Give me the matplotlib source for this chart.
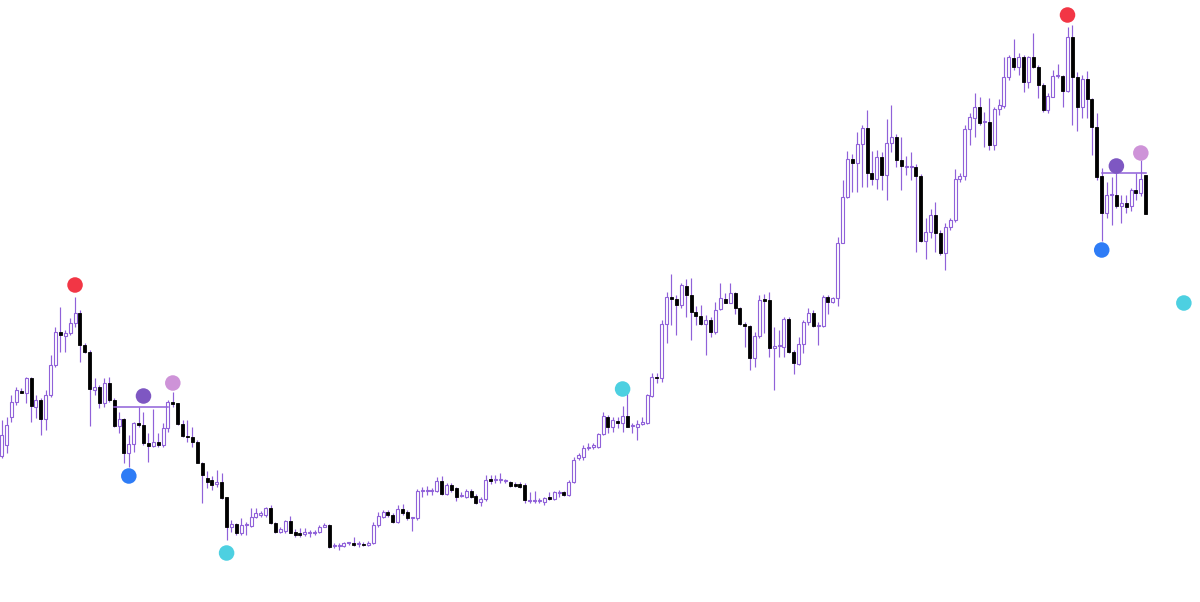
import numpy as np
import matplotlib
matplotlib.use('Agg')
import matplotlib.pyplot as plt

# candle data (price units)
opens = [146, 157, 185, 200, 211, 209, 224, 195, 202, 183,
         207, 237, 270, 266, 269, 279, 289, 257, 250, 212,
         215, 199, 219, 202, 176, 183, 149, 158, 179, 177,
         159, 156, 160, 157, 174, 200, 199, 178, 166, 165,
         160, 139, 124, 122, 118, 120, 105, 75, 78, 69,
         77, 76, 85, 87, 87, 94, 79, 70, 71, 81,
         70, 69, 68, 69, 69, 70, 75, 77, 56, 56,
         56, 59, 59, 58, 58, 57, 59, 77, 85, 90,
         87, 80, 93, 90, 84, 84, 111, 111, 111, 111,
         121, 108, 117, 114, 106, 105, 111, 106, 100, 103,
         123, 122, 122, 121, 120, 118, 118, 117, 101, 101,
         101, 100, 105, 103, 109, 110, 107, 120, 144, 145,
         154, 155, 155, 168, 185, 175, 181, 179, 186, 176,
         175, 178, 179, 206, 225, 224, 278, 305, 303, 297,
         316, 307, 290, 286, 278, 282, 270, 293, 303, 299,
         309, 294, 278, 276, 244, 266, 303, 302, 254, 256,
         255, 283, 250, 238, 258, 280, 289, 276, 276, 305,
         300, 304, 359, 405, 443, 439, 458, 474, 429, 423,
         445, 427, 459, 465, 442, 435, 435, 435, 426, 361,
         370, 387, 369, 349, 375, 382, 423, 426, 473, 484,
         495, 480, 480, 457, 493, 496, 525, 544, 535, 545,
         520, 545, 535, 517, 492, 505, 526, 526, 511, 565,
         525, 495, 523, 503, 475, 426, 389, 407, 407, 396,
         399, 396, 412, 409, 427]
highs = [182, 185, 207, 215, 214, 225, 225, 207, 204, 212,
         247, 275, 295, 272, 284, 305, 292, 259, 252, 224,
         217, 224, 225, 204, 190, 184, 167, 180, 195, 190,
         169, 193, 169, 179, 202, 210, 199, 182, 182, 175,
         162, 140, 131, 126, 132, 129, 105, 82, 79, 84,
         80, 94, 94, 91, 95, 97, 80, 75, 82, 86,
         73, 74, 74, 72, 72, 77, 79, 78, 59, 59,
         60, 60, 65, 61, 60, 61, 80, 90, 92, 92,
         89, 97, 98, 92, 85, 113, 115, 116, 114, 125,
         126, 119, 119, 115, 110, 113, 113, 108, 105, 127,
         127, 127, 129, 123, 121, 120, 120, 119, 110, 111,
         104, 105, 110, 111, 112, 111, 122, 145, 149, 157,
         159, 159, 169, 190, 187, 185, 185, 196, 210, 179,
         182, 185, 208, 229, 229, 282, 310, 328, 307, 319,
         323, 324, 296, 297, 287, 285, 300, 319, 309, 319,
         310, 295, 280, 277, 270, 307, 308, 310, 275, 272,
         285, 285, 252, 265, 282, 294, 292, 280, 307, 307,
         305, 365, 422, 451, 448, 470, 477, 492, 451, 452,
         450, 483, 497, 468, 465, 446, 450, 438, 428, 384,
         393, 400, 372, 379, 384, 433, 429, 477, 489, 509,
         505, 490, 504, 495, 503, 545, 547, 563, 549, 547,
         546, 569, 537, 519, 509, 532, 538, 527, 575, 577,
         530, 527, 531, 504, 489, 434, 420, 425, 440, 407,
         407, 414, 429, 442, 427]
lows = [144, 149, 180, 197, 209, 199, 180, 184, 167, 172,
        205, 235, 250, 250, 267, 275, 240, 249, 176, 207,
        194, 195, 200, 175, 169, 139, 135, 150, 175, 157,
        140, 155, 155, 155, 170, 195, 177, 165, 160, 155,
        139, 99, 114, 112, 115, 103, 62, 70, 67, 67,
        67, 75, 84, 85, 85, 78, 69, 69, 69, 69,
        65, 65, 66, 65, 67, 69, 75, 54, 54, 52,
        55, 57, 56, 55, 56, 56, 58, 75, 84, 85,
        79, 79, 87, 82, 71, 82, 105, 107, 107, 110,
        107, 107, 110, 101, 105, 104, 104, 98, 96, 101,
        118, 119, 119, 119, 115, 115, 114, 99, 99, 99,
        99, 97, 102, 102, 105, 106, 106, 119, 142, 142,
        152, 153, 154, 167, 169, 170, 174, 170, 175, 169,
        162, 177, 178, 205, 219, 220, 259, 277, 267, 294,
        285, 262, 277, 277, 247, 265, 268, 292, 299, 299,
        288, 277, 255, 232, 235, 264, 269, 245, 212, 245,
        245, 249, 228, 237, 249, 277, 275, 257, 275, 288,
        299, 296, 359, 404, 410, 410, 415, 415, 417, 413,
        412, 402, 450, 435, 412, 427, 422, 350, 360, 343,
        364, 350, 347, 332, 372, 380, 420, 422, 457, 465,
        477, 455, 452, 452, 487, 494, 522, 532, 527, 510,
        514, 534, 504, 490, 489, 505, 524, 495, 510, 477,
        471, 484, 484, 447, 422, 361, 384, 377, 394, 379,
        389, 391, 402, 406, 388]
closes = [167, 177, 200, 212, 209, 224, 196, 202, 183, 207,
          237, 270, 267, 269, 279, 289, 257, 250, 213, 215,
          199, 219, 202, 176, 183, 149, 158, 179, 177, 159,
          156, 160, 157, 174, 200, 198, 178, 166, 165, 160,
          139, 127, 120, 117, 120, 104, 75, 78, 69, 77,
          77, 85, 89, 89, 94, 79, 70, 73, 81, 69,
          67, 67, 70, 69, 70, 75, 77, 55, 56, 56,
          59, 59, 57, 58, 57, 59, 77, 86, 90, 87,
          80, 93, 89, 84, 84, 111, 111, 111, 112, 121,
          108, 117, 112, 105, 106, 111, 105, 99, 103, 122,
          121, 122, 122, 121, 116, 116, 115, 102, 101, 101,
          101, 104, 103, 110, 109, 107, 120, 142, 147, 154,
          155, 157, 168, 186, 175, 182, 179, 186, 175, 176,
          178, 180, 207, 225, 224, 278, 305, 303, 297, 317,
          307, 290, 286, 278, 282, 270, 292, 304, 299, 309,
          294, 278, 276, 244, 266, 302, 301, 254, 256, 256,
          283, 250, 239, 258, 280, 289, 276, 276, 305, 300,
          304, 359, 405, 443, 439, 458, 474, 429, 423, 445,
          427, 459, 465, 442, 436, 435, 436, 426, 361, 370,
          387, 369, 349, 375, 382, 423, 426, 473, 485, 495,
          479, 480, 457, 493, 497, 525, 545, 535, 545, 520,
          545, 535, 517, 492, 506, 526, 526, 511, 565, 525,
          495, 523, 503, 475, 425, 389, 407, 407, 396, 399,
          395, 412, 409, 423, 388]

# pivot markers: bar index, price, colour
marker_idx = [15, 26, 29, 35, 46, 127, 218, 225, 228, 233, 241.8]
marker_price = [317, 126, 206, 219, 49, 213, 587, 352, 436, 449, 299]
marker_color = ['#F23645', '#2E7CF6', '#7E57C2', '#CE93D8', '#4DD0E1', '#4DD0E1',
                '#F23645', '#2E7CF6', '#7E57C2', '#CE93D8', '#4DD0E1']

# range lines: start index, end index, price
range_start = [23, 225]
range_end = [34, 234]
range_price = [195, 429]

wick_col = '#9061D9'

o = np.array(opens, dtype=float)
h = np.array(highs, dtype=float)
l = np.array(lows, dtype=float)
c = np.array(closes, dtype=float)
x = np.arange(len(o))
up = c >= o

fig = plt.figure(figsize=(12, 6.02), dpi=100)
ax = fig.add_axes([0, 0, 1, 1])

step = 4.889
ax.set_xlim(-1.7 / step, (1200 - 1.7) / step)
ax.set_ylim(0, 602)
ax.axis('off')

# wicks first, bodies on top
ax.vlines(x, l, h, color=wick_col, linewidth=0.85, zorder=1)

bottom = np.minimum(o, c)
height = np.maximum(np.abs(c - o), 0.9)
w = 0.6
ax.bar(x[up], height[up], bottom=bottom[up], width=w, color='white',
       edgecolor=wick_col, linewidth=0.8, zorder=2)
ax.bar(x[~up], height[~up], bottom=bottom[~up], width=w, color='black',
       edgecolor='black', linewidth=0.6, zorder=2)

for s, e, p in zip(range_start, range_end, range_price):
    ax.plot([s, e], [p, p], color=wick_col, linewidth=1.1, zorder=3)

ax.scatter(marker_idx, marker_price, s=125, c=marker_color, edgecolors='none', zorder=4)

fig.savefig('out.png', dpi=100, facecolor='white')
